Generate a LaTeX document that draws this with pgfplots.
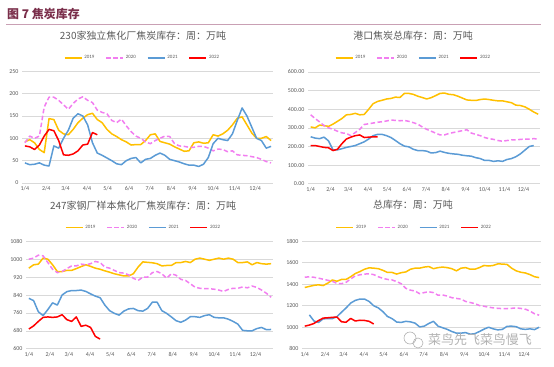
\documentclass[border=0pt]{standalone}
\usepackage{fontspec}
\setmainfont{Carlito}
\newfontfamily\cjk{Noto Sans CJK SC}
\usepackage{pgfplots}
\usepackage{pgfplotstable}
\pgfplotsset{compat=1.18}
\definecolor{c19}{HTML}{FFC000}
\definecolor{c20}{HTML}{F27EF0}
\definecolor{c21}{HTML}{5B9BD5}
\definecolor{c22}{HTML}{FF0000}
\definecolor{tickgray}{HTML}{595959}
\definecolor{gridgray}{HTML}{D9D9D9}
\definecolor{hdr}{HTML}{7A2E4A}
\definecolor{hdrline}{HTML}{C9A0B4}

\pgfplotstableread{
w a b c d
0 92 90 45 83
1 97 105 41 81
2 90 100 42 75
3 75 105 45 85
4 68 170 40 105
5 144 192 38 120
6 142 192 83 117
7 118 185 78 95
8 110 175 100 63
9 108 165 118 62
10 120 178 145 65
11 135 188 155 72
12 145 193 150 85
13 153 185 130 87
14 156 180 90 113
15 142 163 67 108
16 135 158 62 nan
17 120 155 56 nan
18 110 140 50 nan
19 104 135 43 nan
20 97 143 41 nan
21 92 128 50 nan
22 85 115 55 nan
23 86 105 57 nan
24 86 100 45 nan
25 95 92 53 nan
26 108 88 55 nan
27 110 95 62 nan
28 93 100 67 nan
29 90 105 62 nan
30 87 104 53 nan
31 81 88 50 nan
32 76 83 47 nan
33 71 82 43 nan
34 72 80 40 nan
35 90 80 40 nan
36 92 82 37 nan
37 89 82 42 nan
38 90 78 57 nan
39 108 72 88 nan
40 105 76 100 nan
41 110 75 97 nan
42 118 70 95 nan
43 130 72 110 nan
44 145 63 140 nan
45 148 62 168 nan
46 130 61 150 nan
47 112 59 125 nan
48 100 57 100 nan
49 100 53 95 nan
50 104 48 78 nan
51 95 45 82 nan
}\tA

\pgfplotstableread{
w a b c d
0 305 370 252 205
1 300 350 245 205
2 315 332 242 200
3 312 312 250 195
4 308 300 230 193
5 320 292 182 178
6 335 282 182 185
7 350 273 188 215
8 370 270 195 240
9 372 258 200 250
10 378 275 205 258
11 370 292 215 262
12 372 318 225 248
13 400 322 240 250
14 430 326 258 252
15 442 330 265 252
16 448 333 265 nan
17 455 337 258 nan
18 458 342 248 nan
19 465 340 232 nan
20 463 338 215 nan
21 485 340 202 nan
22 485 335 198 nan
23 480 328 185 nan
24 470 320 178 nan
25 463 305 178 nan
26 455 292 175 nan
27 462 282 165 nan
28 473 272 167 nan
29 485 262 175 nan
30 487 262 168 nan
31 480 270 163 nan
32 478 275 160 nan
33 470 280 158 nan
34 460 285 153 nan
35 450 290 150 nan
36 448 272 148 nan
37 447 265 140 nan
38 452 258 135 nan
39 455 248 125 nan
40 452 242 125 nan
41 448 238 120 nan
42 445 232 123 nan
43 445 228 120 nan
44 440 232 130 nan
45 435 235 135 nan
46 422 235 145 nan
47 420 238 160 nan
48 413 240 180 nan
49 400 240 200 nan
50 385 242 205 nan
51 373 240 nan nan
}\tB

\pgfplotstableread{
w a b c d
0 960 1000 825 688
1 975 1005 815 702
2 978 1018 765 722
3 1005 1015 748 740
4 1000 985 775 742
5 975 955 805 740
6 945 940 795 742
7 945 945 840 752
8 950 958 855 730
9 950 970 860 722
10 958 970 860 742
11 967 978 862 700
12 975 975 856 705
13 968 980 845 695
14 960 990 835 655
15 955 985 828 643
16 948 965 795 nan
17 942 960 770 nan
18 935 950 758 nan
19 930 940 750 nan
20 925 938 768 nan
21 925 930 778 nan
22 935 915 780 nan
23 965 905 770 nan
24 988 920 768 nan
25 986 920 780 nan
26 984 940 808 nan
27 980 945 808 nan
28 970 935 770 nan
29 972 915 758 nan
30 972 935 742 nan
31 985 928 725 nan
32 985 910 718 nan
33 990 905 728 nan
34 985 890 743 nan
35 1000 875 743 nan
36 1005 870 740 nan
37 1000 868 748 nan
38 995 868 752 nan
39 1000 866 740 nan
40 1005 862 738 nan
41 1000 856 738 nan
42 1005 865 732 nan
43 1000 870 722 nan
44 985 870 710 nan
45 985 876 682 nan
46 988 872 680 nan
47 975 880 680 nan
48 985 874 690 nan
49 980 862 695 nan
50 978 848 685 nan
51 980 830 686 nan
}\tC

\pgfplotstableread{
w a b c d
0 1370 1465 nan 1010
1 1380 1470 1115 1020
2 1390 1465 1058 1035
3 1395 1457 1045 1062
4 1388 1447 1078 1085
5 1410 1437 1080 1088
6 1440 1428 1080 1092
7 1428 1408 1098 1095
8 1445 1405 1140 1050
9 1445 1418 1180 1047
10 1470 1450 1225 1082
11 1500 1478 1250 1058
12 1518 1488 1262 1065
13 1540 1495 1262 1063
14 1553 1497 1240 1055
15 1550 1490 1200 1030
16 1545 1470 1180 nan
17 1530 1455 1145 nan
18 1510 1445 1100 nan
19 1510 1440 1080 nan
20 1495 1425 1048 nan
21 1508 1405 1045 nan
22 1515 1362 1055 nan
23 1540 1345 1050 nan
24 1550 1337 1038 nan
25 1550 1312 1003 nan
26 1560 1323 1010 nan
27 1565 1330 1035 nan
28 1545 1322 1055 nan
29 1555 1298 1010 nan
30 1560 1300 995 nan
31 1555 1290 980 nan
32 1545 1275 960 nan
33 1525 1268 945 nan
34 1550 1262 945 nan
35 1555 1240 950 nan
36 1540 1230 935 nan
37 1540 1220 940 nan
38 1555 1202 960 nan
39 1575 1195 982 nan
40 1570 1187 1000 nan
41 1575 1180 985 nan
42 1590 1176 975 nan
43 1588 1173 980 nan
44 1585 1174 1008 nan
45 1550 1176 1010 nan
46 1525 1180 1005 nan
47 1512 1175 985 nan
48 1505 1168 980 nan
49 1490 1150 985 nan
50 1470 1125 978 nan
51 1462 1112 1000 nan
}\tD

\pgfplotsset{
  panel/.style={
    scale only axis,
    anchor=south west,
    xmin=-0.6, xmax=51.4,
    enlargelimits=false,
    axis line style={draw=none},
    major tick length=0pt,
    ymajorgrids,
    grid style={gridgray, line width=0.6bp},
    xtick={0,4.43,8.43,12.86,17.14,21.57,25.86,30.29,34.71,39,43.43,47.71},
    xticklabels={1/4,2/4,3/4,4/4,5/4,6/4,7/4,8/4,9/4,10/4,11/4,12/4},
    tick label style={font=\fontsize{6}{7}\selectfont, text=tickgray},
    /pgf/number format/assume math mode=true,
    /pgf/number format/1000 sep={},
    legend columns=4,
    legend style={draw=none, fill=none, anchor=center,
      font=\fontsize{5}{6}\selectfont, text=tickgray,
      /tikz/every even column/.append style={column sep=9bp}},
    legend image code/.code={\draw[##1] (0bp,0bp) -- (17bp,0bp);},
    title style={font=\cjk\fontsize{10}{12}\selectfont, text=tickgray, anchor=center},
    every axis plot/.append style={line width=1.5bp, mark=none, line join=round},
    unbounded coords=jump,
  },
  s19/.style={c19},
  s20/.style={c20, dash pattern=on 4.5bp off 2.5bp},
  s21/.style={c21},
  s22/.style={c22},
}

\begin{document}
\begin{tikzpicture}
\path[use as bounding box] (0bp,0bp) rectangle (554bp,-367bp);
\node[anchor=west, text=hdr, font=\cjk\bfseries\fontsize{12}{14}\selectfont, inner sep=0pt] at (7bp,-14bp) {图 7 焦炭库存};
\draw[hdrline, line width=1bp] (6bp,-24bp) -- (541bp,-24bp);

% Panel 1
\begin{axis}[panel, at={(22bp,-183bp)}, width=251bp, height=111.7bp,
  ymin=0, ymax=250, ytick={0,50,...,250},
  title={230家独立焦化厂焦炭库存：周：万吨},
  title style={at={(0.482,1.262)}},
  legend style={at={(0.48,1.12)}}]
\addplot[s19] table[x=w,y=a] {\tA};
\addplot[s20] table[x=w,y=b] {\tA};
\addplot[s21] table[x=w,y=c] {\tA};
\addplot[s22] table[x=w,y=d] {\tA};
\legend{2019,2020,2021,2022}
\end{axis}

% Panel 2
\begin{axis}[panel, at={(308bp,-183.7bp)}, width=232bp, height=111.7bp,
  ymin=0, ymax=600, ytick={0,100,...,600},
  yticklabel style={/pgf/number format/.cd, fixed, fixed zerofill, precision=2},
  title={港口焦炭总库存：周：万吨},
  title style={at={(0.453,1.27)}},
  legend style={at={(0.455,1.125)}}]
\addplot[s19] table[x=w,y=a] {\tB};
\addplot[s20] table[x=w,y=b] {\tB};
\addplot[s21] table[x=w,y=c] {\tB};
\addplot[s22] table[x=w,y=d] {\tB};
\legend{2019,2020,2021,2022}
\end{axis}

% Panel 3
\begin{axis}[panel, at={(26bp,-348.7bp)}, width=247bp, height=107.4bp,
  ymin=600, ymax=1080, ytick={600,680,...,1080},
  title={247家钢厂样本焦化厂焦炭库存：周：万吨},
  title style={at={(0.474,1.276)}},
  legend style={at={(0.476,1.127)}}]
\addplot[s19] table[x=w,y=a] {\tC};
\addplot[s20] table[x=w,y=b] {\tC};
\addplot[s21] table[x=w,y=c] {\tC};
\addplot[s22] table[x=w,y=d] {\tC};
\legend{2019,2020,2021,2022}
\end{axis}

% Panel 4
\begin{axis}[panel, at={(302bp,-348.7bp)}, width=239bp, height=107.4bp,
  ymin=800, ymax=1800, ytick={800,1000,...,1800},
  title={总库存：周：万吨},
  title style={at={(0.464,1.285)}},
  legend style={at={(0.47,1.127)}}]
\addplot[s19] table[x=w,y=a] {\tD};
\addplot[s20] table[x=w,y=b] {\tD};
\addplot[s21] table[x=w,y=c] {\tD};
\addplot[s22] table[x=w,y=d] {\tD};
\legend{2019,2020,2021,2022}
\end{axis}

% watermark
\draw[gray!60, line width=0.6bp] (410bp,-338bp) circle (6bp);
\draw[gray!60, line width=0.6bp] (418bp,-343bp) circle (5bp);
\node[anchor=west, text=gray!60, font=\cjk\fontsize{13}{15}\selectfont, inner sep=0pt] at (428bp,-340bp) {菜鸟先飞菜鸟慢飞};
\end{tikzpicture}
\end{document}
